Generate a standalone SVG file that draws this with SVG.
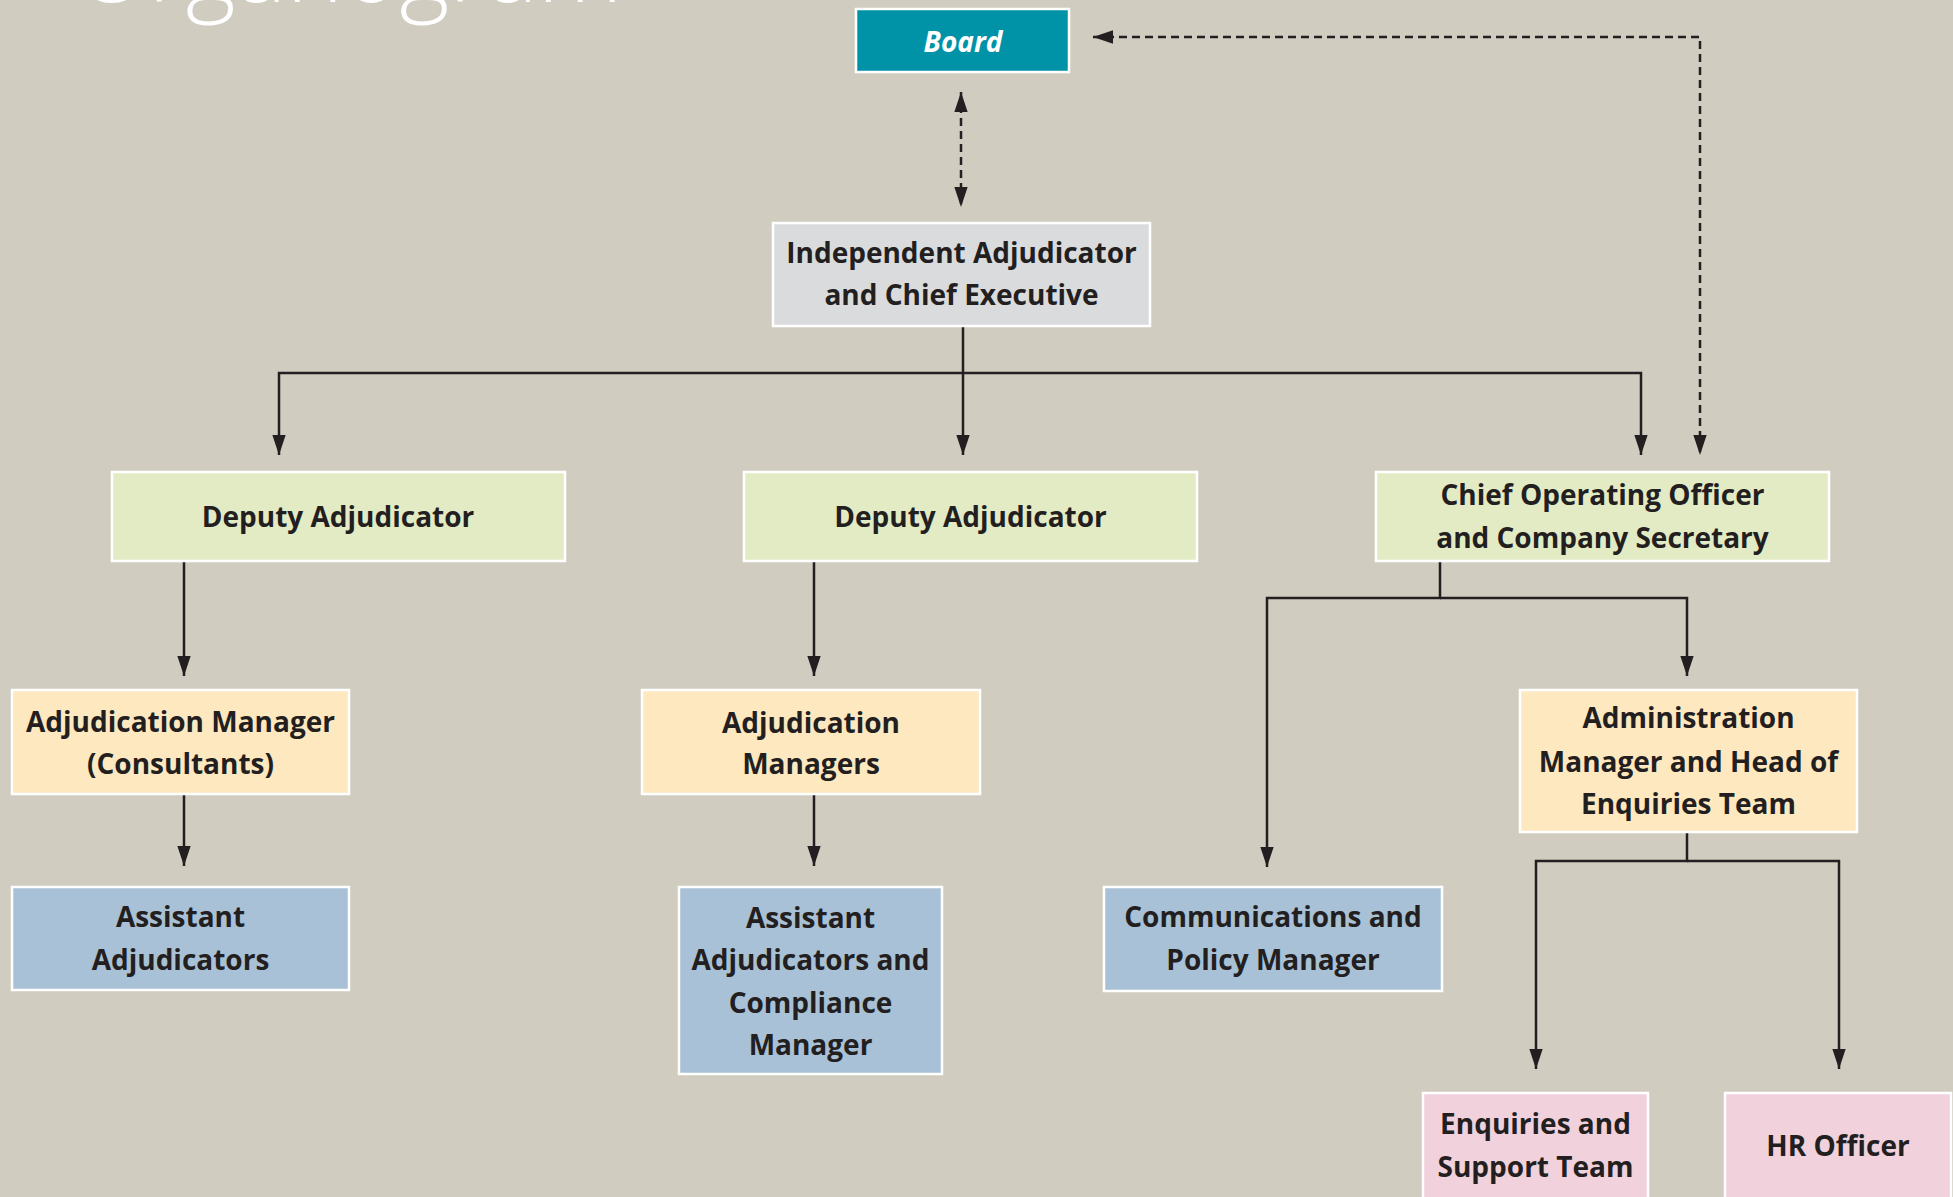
<svg xmlns="http://www.w3.org/2000/svg" width="1953" height="1197" viewBox="0 0 1953 1197">
<defs>
<style>
.bg{fill:#d0ccc0}
.box{stroke:#ffffff;stroke-width:2.5}
.board{fill:#0093a8}
.ceo{fill:#dadbdd}
.dep{fill:#e3ebc5}
.mgr{fill:#fde8c0}
.asst{fill:#a8c1d6}
.pink{fill:#f0d1dc}
.t{font-family:"Open Sans","Noto Sans","Liberation Sans",sans-serif;font-weight:700;font-size:28px;fill:#231f20;text-anchor:middle}
.tb{font-family:"Open Sans","Noto Sans","Liberation Sans",sans-serif;font-weight:700;font-style:italic;font-size:28px;fill:#ffffff;text-anchor:middle}
.title{font-family:"Open Sans","Noto Sans","Liberation Sans",sans-serif;font-weight:300;font-size:96px;fill:#ffffff}
.ln{fill:none;stroke:#231f20;stroke-width:2.5}
.dash{fill:none;stroke:#231f20;stroke-width:2.5;stroke-dasharray:8 5}
</style>
<marker id="ah" markerUnits="userSpaceOnUse" markerWidth="20" markerHeight="14" viewBox="0 0 18 12" refX="18" refY="6" orient="auto-start-reverse">
<path d="M0,0 L18,6 L0,12 Z" fill="#231f20"/>
</marker>
</defs>
<rect class="bg" x="0" y="0" width="1953" height="1197"/>
<text class="title" x="75" y="1.5">Organogram</text>

<g id="connectors">
<path class="dash" d="M961,92 L961,207" marker-start="url(#ah)" marker-end="url(#ah)"/>
<path class="dash" d="M1093,37 L1700,37 L1700,455" marker-start="url(#ah)" marker-end="url(#ah)"/>
<path class="ln" d="M963,326 L963,455" marker-end="url(#ah)"/>
<path class="ln" d="M963,373 L279,373 L279,455" marker-end="url(#ah)"/>
<path class="ln" d="M963,373 L1641,373 L1641,455" marker-end="url(#ah)"/>
<path class="ln" d="M184,561 L184,676" marker-end="url(#ah)"/>
<path class="ln" d="M184,794 L184,866" marker-end="url(#ah)"/>
<path class="ln" d="M814,561 L814,676" marker-end="url(#ah)"/>
<path class="ln" d="M814,794 L814,866" marker-end="url(#ah)"/>
<path class="ln" d="M1440,561 L1440,598 L1267,598 L1267,867" marker-end="url(#ah)"/>
<path class="ln" d="M1440,598 L1687,598 L1687,676" marker-end="url(#ah)"/>
<path class="ln" d="M1687,832 L1687,861 L1536,861 L1536,1069" marker-end="url(#ah)"/>
<path class="ln" d="M1687,861 L1839,861 L1839,1069" marker-end="url(#ah)"/>
</g>

<g id="board">
<rect class="box board" x="856" y="9" width="213" height="63"/>
<text class="tb" x="963" y="52">Board</text>
</g>
<g id="ceo">
<rect class="box ceo" x="773" y="223" width="377" height="103"/>
<text class="t" x="961.5" y="263">Independent Adjudicator</text>
<text class="t" x="961.5" y="305">and Chief Executive</text>
</g>
<g id="deputy1">
<rect class="box dep" x="112" y="472" width="453" height="89"/>
<text class="t" x="338" y="527">Deputy Adjudicator</text>
</g>
<g id="deputy2">
<rect class="box dep" x="744" y="472" width="453" height="89"/>
<text class="t" x="970.5" y="527">Deputy Adjudicator</text>
</g>
<g id="coo">
<rect class="box dep" x="1376" y="472" width="453" height="89"/>
<text class="t" x="1602.5" y="505">Chief Operating Officer</text>
<text class="t" x="1602.5" y="548">and Company Secretary</text>
</g>
<g id="adjmgr-consultants">
<rect class="box mgr" x="12" y="690" width="337" height="104"/>
<text class="t" x="180.5" y="731.5">Adjudication Manager</text>
<text class="t" x="180.5" y="773.5">(Consultants)</text>
</g>
<g id="adjmgrs">
<rect class="box mgr" x="642" y="690" width="338" height="104"/>
<text class="t" x="811" y="732.5">Adjudication</text>
<text class="t" x="811" y="774">Managers</text>
</g>
<g id="admin">
<rect class="box mgr" x="1520" y="690" width="337" height="142"/>
<text class="t" x="1688.5" y="728">Administration</text>
<text class="t" x="1688.5" y="771.5">Manager and Head of</text>
<text class="t" x="1688.5" y="814">Enquiries Team</text>
</g>
<g id="asst-adj">
<rect class="box asst" x="12" y="887" width="337" height="103"/>
<text class="t" x="180.5" y="927">Assistant</text>
<text class="t" x="180.5" y="970">Adjudicators</text>
</g>
<g id="asst-adj-compliance">
<rect class="box asst" x="679" y="887" width="263" height="187"/>
<text class="t" x="810.5" y="927.5">Assistant</text>
<text class="t" x="810.5" y="970">Adjudicators and</text>
<text class="t" x="810.5" y="1012.5">Compliance</text>
<text class="t" x="810.5" y="1055">Manager</text>
</g>
<g id="comms">
<rect class="box asst" x="1104" y="887" width="338" height="104"/>
<text class="t" x="1273" y="927">Communications and</text>
<text class="t" x="1273" y="970">Policy Manager</text>
</g>
<g id="enquiries">
<rect class="box pink" x="1423" y="1093" width="225" height="110"/>
<text class="t" x="1535.5" y="1134">Enquiries and</text>
<text class="t" x="1535.5" y="1177">Support Team</text>
</g>
<g id="hr">
<rect class="box pink" x="1725" y="1093" width="226" height="110"/>
<text class="t" x="1838" y="1156">HR Officer</text>
</g>
</svg>
